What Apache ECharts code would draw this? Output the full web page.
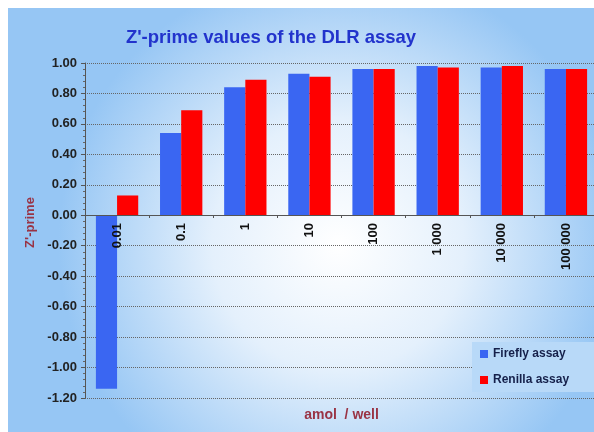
<!DOCTYPE html>
<html>
<head>
<meta charset="utf-8">
<script src="https://cdn.jsdelivr.net/npm/echarts@6/dist/echarts.min.js"></script>
<style>
  html, body { margin: 0; padding: 0; background: #ffffff; }
  #chart { width: 594px; height: 432px; }
</style>
</head>
<body>
<div id="chart"></div>
<script>
// categories (amol / well) and Z'-prime values
var categories = ['0.01', '0.1', '1', '10', '100', '1 000', '10 000', '100 000'];
var fireflyValues = [-1.14, 0.54, 0.84, 0.93, 0.96, 0.98, 0.97, 0.96];
var renillaValues = [0.13, 0.69, 0.89, 0.91, 0.96, 0.97, 0.98, 0.96];

var myChart = echarts.init(document.getElementById('chart'));

// the category axis sits on the zero line: grid height 335, zero is 183px above the bottom
var option = {
    animation: false,
    textStyle: { fontFamily: 'Liberation Sans, Arial, sans-serif' },
    graphic: [{
        type: 'rect',
        z: -10,
        silent: true,
        shape: { x: 8, y: 8, width: 600, height: 430 },
        style: {
            fill: new echarts.graphic.RadialGradient(0.55, 0.55, 0.65, [
                { offset: 0, color: '#ffffff' },
                { offset: 0.45, color: '#e4f0fc' },
                { offset: 1, color: '#96c6f4' }
            ])
        }
    }],
    title: {
        text: "Z'-prime values of the DLR assay",
        left: 266,
        textAlign: 'center',
        top: 23,
        textStyle: { color: '#2233cc', fontSize: 18.5, fontWeight: 'bold' }
    },
    legend: {
        orient: 'vertical',
        left: 472,
        top: 342,
        padding: [6, 30, 6, 8],
        itemGap: 14,
        itemWidth: 8,
        itemHeight: 8,
        backgroundColor: '#b8d9f8',
        icon: 'rect',
        textStyle: { color: '#15204a', fontSize: 12, fontWeight: 'bold' },
        data: ['Firefly assay', 'Renilla assay']
    },
    grid: { left: 85, top: 63, width: 513, height: 335, outerBoundsMode: 'none', containLabel: false },
    xAxis: {
        type: 'category',
        data: categories,
        offset: -183,
        z: 5,
        name: 'amol  / well',
        nameLocation: 'middle',
        nameGap: 193,
        nameTextStyle: { color: '#993344', fontSize: 14, fontWeight: 'bold' },
        axisLine: { onZero: false, lineStyle: { color: '#555555' } },
        axisTick: { show: true, length: 3, lineStyle: { color: '#555555' } },
        axisLabel: {
            rotate: 90,
            margin: 8,
            color: '#111111',
            fontSize: 13,
            fontWeight: 'bold'
        }
    },
    yAxis: {
        type: 'value',
        min: -1.2,
        max: 1,
        interval: 0.2,
        name: "Z'-prime",
        nameLocation: 'middle',
        nameRotate: 90,
        nameGap: 48,
        nameTextStyle: { color: '#993344', fontSize: 13, fontWeight: 'bold', padding: [0, 0, 0, 16] },
        axisLine: { show: true, lineStyle: { color: '#555555' } },
        axisTick: { show: true, length: 4, lineStyle: { color: '#555555' } },
        minorTick: { show: true, splitNumber: 5, length: 2, lineStyle: { color: '#666666' } },
        axisLabel: {
            margin: 8,
            color: '#222222',
            fontSize: 13,
            fontWeight: 'bold',
            formatter: function (v) { return v.toFixed(2); }
        },
        splitLine: { show: true, lineStyle: { color: '#666666', type: 'dotted' } }
    },
    series: [
        {
            name: 'Firefly assay',
            type: 'bar',
            data: fireflyValues,
            barGap: '0%',
            barCategoryGap: '34%',
            itemStyle: { color: '#3a66f2' }
        },
        {
            name: 'Renilla assay',
            type: 'bar',
            data: renillaValues,
            barGap: '0%',
            barCategoryGap: '34%',
            itemStyle: { color: '#ff0000' }
        }
    ]
};

myChart.setOption(option);
</script>
</body>
</html>
